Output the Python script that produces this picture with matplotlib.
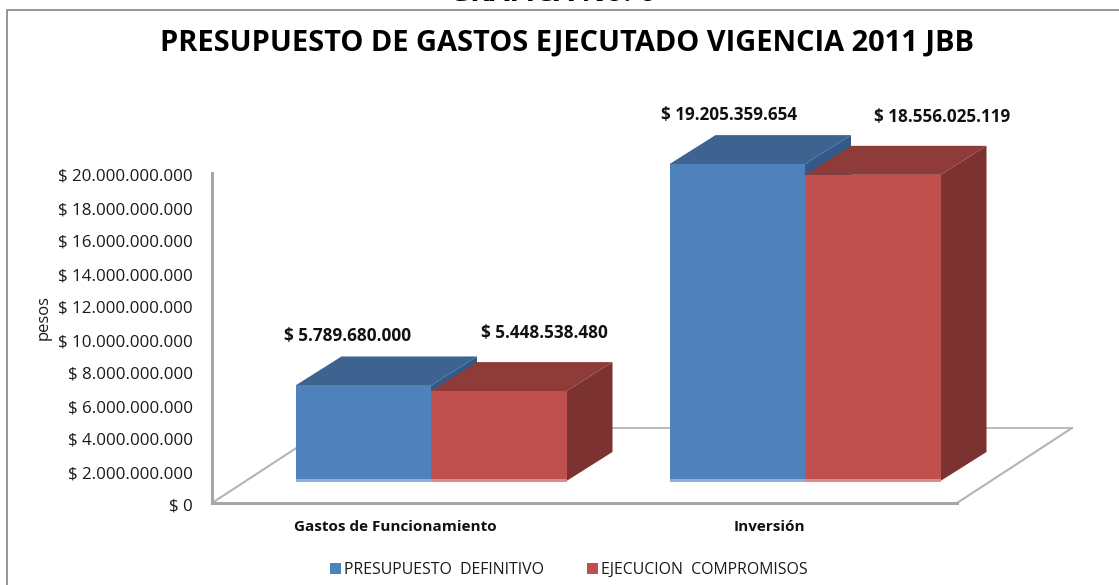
import matplotlib
matplotlib.use("Agg")
import matplotlib.pyplot as plt
from matplotlib.patches import Polygon, Patch
from matplotlib.lines import Line2D
from matplotlib.transforms import ScaledTranslation

categories = ["Gastos de Funcionamiento", "Inversión"]
series_names = ["PRESUPUESTO  DEFINITIVO", "EJECUCION  COMPROMISOS"]
presupuesto = [5789680000, 19205359654]
ejecucion = [5448538480, 18556025119]
labels_pres = ["$ 5.789.680.000", "$ 19.205.359.654"]
labels_ejec = ["$ 5.448.538.480", "$ 18.556.025.119"]
y_ticks = list(range(0, 20000000001, 2000000000))
y_tick_labels = ["$ 0", "$ 2.000.000.000", "$ 4.000.000.000", "$ 6.000.000.000",
                 "$ 8.000.000.000", "$ 10.000.000.000", "$ 12.000.000.000",
                 "$ 14.000.000.000", "$ 16.000.000.000", "$ 18.000.000.000",
                 "$ 20.000.000.000"]

W, H = 1119, 585
FONT = "Open Sans"
plt.rcParams["font.family"] = [FONT, "DejaVu Sans"]
fig = plt.figure(figsize=(W / 100, H / 100), dpi=100)
fig.patch.set_facecolor("white")

# plot box in pixels
L, R, T, B = 212, 957, 173, 503
ax = fig.add_axes([L / W, 1 - B / H, (R - L) / W, (B - T) / H])
ax.patch.set_alpha(0)
px_x = 374.0                  # pixels per category
px_y = (B - T) / 20e9         # pixels per peso
ax.set_xlim((L - 431) / px_x, (R - 431) / px_x)
ax.set_ylim(0, 20e9)

def xpx(p):
    return p / px_x

def ypx(p):
    return p / px_y

# frame: left and top edges only reach the picture
fig.add_artist(Line2D([7 / W, 7 / W, 1.0], [0, 1 - 10 / H, 1 - 10 / H],
                      transform=fig.transFigure, color="#8c8c8c", lw=1.3))

# floor
fdx, fdy = xpx(115), ypx(75)
x0, x1 = ax.get_xlim()
floor_c = "#b4b4b4"
ax.plot([x0, x0 + fdx], [0, fdy], color=floor_c, lw=1.5, clip_on=False, zorder=1)
ax.plot([x1, x1 + fdx], [0, fdy], color=floor_c, lw=1.5, clip_on=False, zorder=1)
ax.plot([x0 + fdx, x1 + fdx], [fdy, fdy], color=floor_c, lw=1.3, clip_on=False, zorder=1)

# bars
base = ypx(22)
dx, dy = xpx(46), ypx(29)
width = 135.5 / px_x
styles = [
    ("#4F81BD", "#3E6390", "#315A8A", "#8FAEDA"),
    ("#C0504D", "#8F3B39", "#7B3230", "#DC8B89"),
]

def draw_bar(x, value, st, z):
    front, top, side, strip = st
    xl, xr = x, x + width
    yb, yt = base, base + value
    ax.add_patch(Polygon([(xr, yb), (xr + dx, yb + dy), (xr + dx, yt + dy), (xr, yt)],
                         fc=side, ec="none", clip_on=False, zorder=z))
    ax.add_patch(Polygon([(xl, yt), (xl + dx, yt + dy), (xr + dx, yt + dy), (xr, yt)],
                         fc=top, ec="none", clip_on=False, zorder=z + 0.1))
    ax.bar(x, value, width=width, bottom=base, align="edge", color=front,
           clip_on=False, zorder=z + 0.2)
    ax.bar(x, ypx(3), width=width, bottom=base - ypx(1), align="edge", color=strip,
           clip_on=False, zorder=z + 0.3)

for i in range(len(categories)):
    draw_bar(i - width, presupuesto[i], styles[0], 3 + i * 4)
    draw_bar(i, ejecucion[i], styles[1], 5 + i * 4)

# data labels: offset from bar's front-top centre, in pixels
label_off_pres = [(-16, 49), (-8, 49)]
label_off_ejec = [(46, 58), (69, 58)]
for i in range(len(categories)):
    ax.annotate(labels_pres[i], (i - width / 2, base + presupuesto[i]),
                xytext=(label_off_pres[i][0] * .72, label_off_pres[i][1] * .72),
                textcoords="offset points", ha="center", va="center",
                fontsize=12.3, fontweight="bold", color="#111111", annotation_clip=False, zorder=20)
    ax.annotate(labels_ejec[i], (i + width / 2, base + ejecucion[i]),
                xytext=(label_off_ejec[i][0] * .72, label_off_ejec[i][1] * .72),
                textcoords="offset points", ha="center", va="center",
                fontsize=12.3, fontweight="bold", color="#111111", annotation_clip=False, zorder=20)

# axes
for s in ("top", "right"):
    ax.spines[s].set_visible(False)
for s in ("left", "bottom"):
    ax.spines[s].set_color("#a6a6a6")
    ax.spines[s].set_linewidth(2.2)
ax.set_yticks(y_ticks)
ax.set_yticklabels(y_tick_labels, fontsize=12.2, color="#1a1a1a", va="center")
ax.tick_params(axis="y", length=0, pad=14)
ax.set_xticks([i - 35.5 / px_x for i in range(len(categories))])
ax.set_xticklabels(categories, fontsize=11, fontweight="bold", color="#111111")
ax.tick_params(axis="x", length=0, pad=12.5)
shift = ScaledTranslation(0, -4 / 100, fig.dpi_scale_trans)
for t in ax.get_yticklabels():
    t.set_transform(t.get_transform() + shift)

fig.text(44 / W, 1 - 317 / H, "pesos", rotation=90, ha="center", va="center",
         fontsize=12, color="#1a1a1a")

# titles
fig.text(567.5 / W, 1 - 43 / H, "PRESUPUESTO DE GASTOS EJECUTADO VIGENCIA 2011 JBB",
         ha="center", va="center", fontsize=20.9, fontweight="bold", color="black")
fig.text(552 / W, 1 - 1 / H, "GRAFICA No. 6", ha="center", va="baseline",
         fontsize=21, fontweight="bold", color="black", clip_on=False)

# legend
handles = [Patch(fc=styles[0][0], ec="none"), Patch(fc=styles[1][0], ec="none")]
fig.legend(handles, series_names, loc="center", bbox_to_anchor=(569 / W, 1 - 570 / H),
           ncol=2, frameon=False, fontsize=11.4, handlelength=0.71, handleheight=0.71,
           handletextpad=0.2, columnspacing=2.7, labelcolor="#1a1a1a", borderpad=0)

fig.savefig("out.png", dpi=100)
